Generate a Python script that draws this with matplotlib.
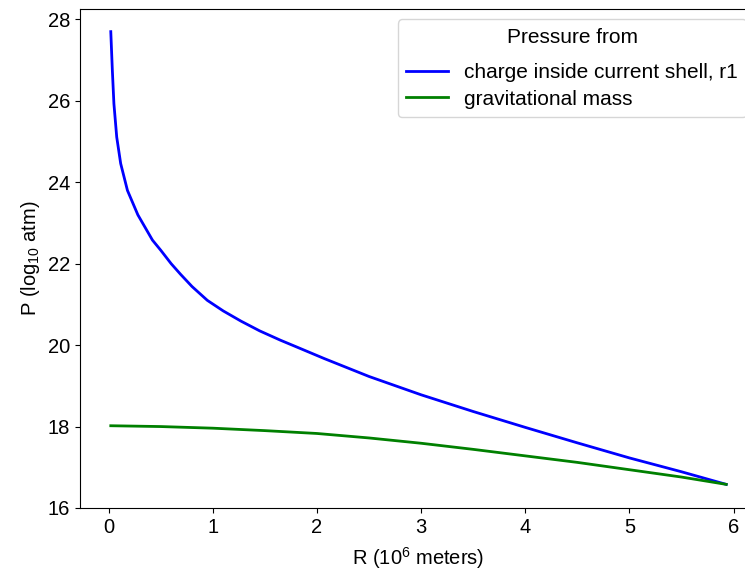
import numpy as np
import matplotlib
matplotlib.use('Agg')
from matplotlib import pyplot as plt

plt.rcParams['font.family'] = ['Liberation Sans', 'DejaVu Sans']
plt.rcParams['font.size'] = 14.5
plt.rcParams['mathtext.fontset'] = 'custom'
plt.rcParams['mathtext.rm'] = 'Liberation Sans'
plt.rcParams['mathtext.it'] = 'Liberation Sans:italic'

# radius (10^6 m) and log10 pressure (atm)
r_charge = [0.02, 0.035, 0.05, 0.077, 0.115, 0.18, 0.28, 0.42, 0.50, 0.60,
            0.69, 0.80, 0.947, 1.10, 1.27, 1.45, 1.65, 1.80, 2.07, 2.5, 3.0,
            3.5, 4.0, 4.5, 5.0, 5.5, 5.93]
p_charge = [27.70, 26.75, 25.93, 25.11, 24.46, 23.80, 23.20, 22.58, 22.33, 22.00,
            21.74, 21.44, 21.10, 20.84, 20.59, 20.35, 20.12, 19.96, 19.67, 19.23, 18.78,
            18.37, 17.98, 17.60, 17.23, 16.89, 16.58]

r_grav = [0.02, 0.5, 1.0, 1.5, 2.0, 2.5, 3.0, 3.5, 4.0, 4.5, 5.0, 5.5, 5.93]
p_grav = [18.02, 18.00, 17.96, 17.90, 17.83, 17.72, 17.59, 17.44, 17.28, 17.12,
          16.94, 16.76, 16.58]

fig = plt.figure(figsize=(7.45, 5.70), dpi=100)
ax = fig.add_axes([0.1074, 0.1088, 0.9087, 0.8754])

ax.plot(r_charge, p_charge, color='blue', lw=2.0, label='charge inside current shell, r1')
ax.plot(r_grav, p_grav, color='green', lw=2.0, label='gravitational mass')

ax.set_xticks(range(0, 7))
ax.set_yticks(range(16, 29, 2))
ax.set_xlabel(r'R (10$^6$ meters)', labelpad=6)
ax.set_ylabel(r'P (log$_{10}$ atm)', labelpad=4)

leg = ax.legend(title='Pressure from', loc='upper right', fontsize=15,
                title_fontsize=15, labelspacing=0.35)
# a bit more room between the title and the entries
leg._legend_box.sep = 12

fig.savefig('out.png', dpi=100)
